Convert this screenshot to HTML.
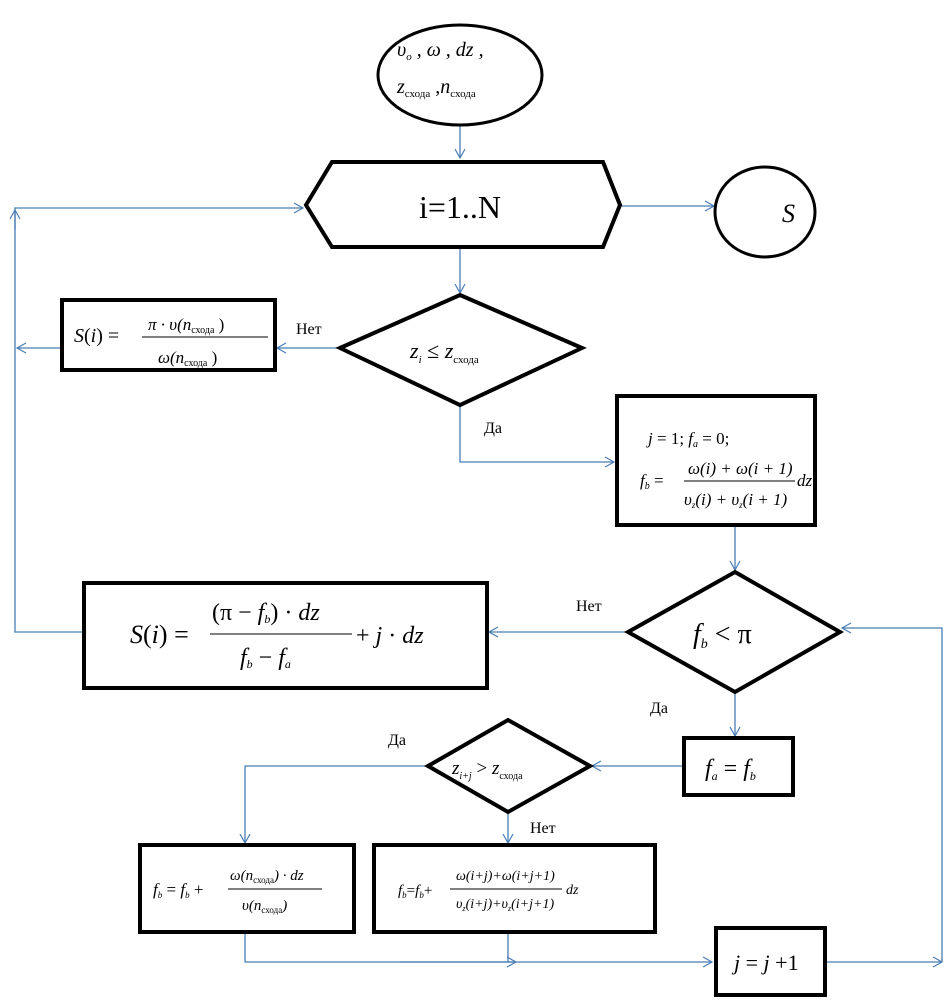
<!DOCTYPE html>
<html><head><meta charset="utf-8"><style>
html,body{margin:0;padding:0;background:#fff;}
svg text{font-family:"Liberation Serif",serif;fill:#000;}
.i{font-style:italic;}
</style></head><body>
<svg width="947" height="1000" viewBox="0 0 947 1000" xmlns="http://www.w3.org/2000/svg">
<defs>
<marker id="a" markerWidth="12" markerHeight="12" refX="10" refY="6" orient="auto" markerUnits="userSpaceOnUse">
<path d="M1,1 L10,6 L1,11" fill="none" stroke="#4a7eb5" stroke-width="1.2"/>
</marker>
</defs>
<g fill="none" stroke="#4a7eb5" stroke-width="1.3">
<line x1="460" y1="125" x2="460" y2="158" marker-end="url(#a)"/>
<line x1="620" y1="206" x2="714" y2="206" marker-end="url(#a)"/>
<line x1="460" y1="247" x2="460" y2="293" marker-end="url(#a)"/>
<line x1="340" y1="348" x2="277" y2="348" marker-end="url(#a)"/>
<line x1="62" y1="348" x2="17" y2="348" marker-end="url(#a)"/>
<polyline points="83,632 15,632 15,208 303,208" marker-end="url(#a)"/>
<line x1="15" y1="230" x2="15" y2="210" marker-end="url(#a)"/>
<polyline points="460,405 460,462 614,462" marker-end="url(#a)"/>
<line x1="735" y1="525" x2="735" y2="570" marker-end="url(#a)"/>
<line x1="628" y1="632" x2="489" y2="632" marker-end="url(#a)"/>
<line x1="735" y1="692" x2="735" y2="736" marker-end="url(#a)"/>
<line x1="683" y1="766" x2="592" y2="766" marker-end="url(#a)"/>
<polyline points="428,766 245,766 245,843" marker-end="url(#a)"/>
<line x1="508" y1="812" x2="508" y2="843" marker-end="url(#a)"/>
<polyline points="245,932 245,962 712,962" marker-end="url(#a)"/>
<line x1="400" y1="962" x2="516" y2="962" marker-end="url(#a)"/>
<line x1="508" y1="932" x2="508" y2="962"/>
<line x1="825" y1="962" x2="942" y2="962" marker-end="url(#a)"/>
<polyline points="942,962 942,628 842,628" marker-end="url(#a)"/>
</g>
<g fill="#fff" stroke="#000" stroke-width="4">
<ellipse cx="460" cy="75" rx="82" ry="50" stroke-width="3"/>
<polygon points="332,162 603,162 620,205 603,247 332,247 306,205"/>
<ellipse cx="765" cy="212" rx="50" ry="45" stroke-width="3"/>
<polygon points="460,295 582,348 460,405 340,348"/>
<rect x="62" y="300" width="213" height="70"/>
<rect x="617" y="396" width="198" height="129"/>
<polygon points="735,572 840,632 735,692 628,632"/>
<rect x="84" y="583" width="403" height="105"/>
<rect x="684" y="738" width="109" height="57"/>
<polygon points="508,720 590,766 508,812 428,766"/>
<rect x="140" y="845" width="214" height="87"/>
<rect x="374" y="845" width="281" height="87"/>
<rect x="716" y="928" width="109" height="67"/>
</g>
<text class="i" x="397" y="56" font-size="20">υ<tspan font-size="11" dy="4">о</tspan><tspan dy="-4"> ,  ω ,  dz ,</tspan></text>
<text class="i" x="397" y="93" font-size="20">z<tspan font-size="11" font-style="normal" dy="4">схода</tspan><tspan dy="-4" font-style="normal"> ,</tspan>n<tspan font-size="11" font-style="normal" dy="4">схода</tspan></text>
<text x="460" y="218" font-size="32" text-anchor="middle">i=1..N</text>
<text class="i" x="782" y="222" font-size="26">S</text>
<text class="i" x="410" y="358" font-size="22">z<tspan font-size="11" dy="5">i</tspan><tspan dy="-5" font-style="normal"> ≤ </tspan>z<tspan font-size="11" font-style="normal" dy="5">схода</tspan></text>
<text x="296" y="334" font-size="16">Нет</text>
<text x="484" y="433" font-size="16">Да</text>
<text class="i" x="74" y="342" font-size="20">S<tspan font-style="normal">(</tspan>i<tspan font-style="normal">) =</tspan></text>
<line x1="142" y1="337" x2="268" y2="337" stroke="#000" stroke-width="1"/>
<text class="i" x="148" y="330" font-size="17">π · υ(n<tspan font-size="10" font-style="normal" dy="3">схода</tspan><tspan dy="-3" font-style="normal"> )</tspan></text>
<text class="i" x="158" y="363" font-size="17">ω(n<tspan font-size="10" font-style="normal" dy="3">схода</tspan><tspan dy="-3" font-style="normal"> )</tspan></text>
<text class="i" x="648" y="444" font-size="17">j<tspan font-style="normal"> = 1;  </tspan>f<tspan font-size="10" dy="3">a</tspan><tspan dy="-3" font-style="normal"> = 0;</tspan></text>
<text class="i" x="640" y="486" font-size="17">f<tspan font-size="10" dy="3">b</tspan><tspan dy="-3" font-style="normal"> =</tspan></text>
<line x1="684" y1="481" x2="795" y2="481" stroke="#000" stroke-width="1"/>
<text class="i" x="688" y="474" font-size="17">ω(i) + ω(i + 1)</text>
<text class="i" x="684" y="505" font-size="17">υ<tspan font-size="9" dy="3">z</tspan><tspan dy="-3">(i) + υ</tspan><tspan font-size="9" dy="3">z</tspan><tspan dy="-3">(i + 1)</tspan></text>
<text class="i" x="797" y="486" font-size="17">dz;</text>
<text class="i" x="693" y="643" font-size="28">f<tspan font-size="14" dy="5">b</tspan><tspan dy="-5" font-style="normal"> &lt; π</tspan></text>
<text x="576" y="611" font-size="16">Нет</text>
<text x="650" y="713" font-size="16">Да</text>
<text class="i" x="130" y="643" font-size="26">S<tspan font-style="normal">(</tspan>i<tspan font-style="normal">) =</tspan></text>
<line x1="210" y1="634" x2="352" y2="634" stroke="#000" stroke-width="1"/>
<text class="i" x="212" y="620" font-size="24"><tspan font-style="normal">(π − </tspan>f<tspan font-size="12" dy="3">b</tspan><tspan dy="-3" font-style="normal">) · </tspan>dz</text>
<text class="i" x="240" y="665" font-size="24">f<tspan font-size="12" dy="3">b</tspan><tspan dy="-3" font-style="normal"> − </tspan>f<tspan font-size="12" dy="3">a</tspan></text>
<text class="i" x="356" y="643" font-size="24"><tspan font-style="normal">+ </tspan>j<tspan font-style="normal"> · </tspan>dz</text>
<text class="i" x="705" y="776" font-size="24">f<tspan font-size="12" dy="4">a</tspan><tspan dy="-4" font-style="normal"> = </tspan>f<tspan font-size="12" dy="4">b</tspan></text>
<text class="i" x="452" y="774" font-size="19">z<tspan font-size="10" dy="5">i+j</tspan><tspan dy="-5" font-style="normal"> &gt; </tspan>z<tspan font-size="10" font-style="normal" dy="5">схода</tspan></text>
<text x="388" y="745" font-size="16">Да</text>
<text x="530" y="833" font-size="16">Нет</text>
<text class="i" x="153" y="895" font-size="17">f<tspan font-size="9" dy="3">b</tspan><tspan dy="-3" font-style="normal"> = </tspan>f<tspan font-size="9" dy="3">b</tspan><tspan dy="-3" font-style="normal"> +</tspan></text>
<line x1="228" y1="889" x2="322" y2="889" stroke="#000" stroke-width="1"/>
<text class="i" x="230" y="880" font-size="15">ω(n<tspan font-size="9" font-style="normal" dy="3">схода</tspan><tspan dy="-3">) · dz</tspan></text>
<text class="i" x="242" y="910" font-size="15">υ(n<tspan font-size="9" font-style="normal" dy="3">схода</tspan><tspan dy="-3">)</tspan></text>
<text class="i" x="398" y="895" font-size="15">f<tspan font-size="9" dy="3">b</tspan><tspan dy="-3" font-style="normal">=</tspan>f<tspan font-size="9" dy="3">b</tspan><tspan dy="-3" font-style="normal">+</tspan></text>
<line x1="450" y1="889" x2="562" y2="889" stroke="#000" stroke-width="1"/>
<text class="i" x="456" y="880" font-size="14">ω(i+j)+ω(i+j+1)</text>
<text class="i" x="456" y="908" font-size="14">υ<tspan font-size="8" dy="3">z</tspan><tspan dy="-3">(i+j)+υ</tspan><tspan font-size="8" dy="3">z</tspan><tspan dy="-3">(i+j+1)</tspan></text>
<text class="i" x="566" y="894" font-size="14">dz</text>
<text class="i" x="734" y="970" font-size="22">j<tspan font-style="normal"> = </tspan>j<tspan font-style="normal"> +1</tspan></text>
</svg>
</body></html>
